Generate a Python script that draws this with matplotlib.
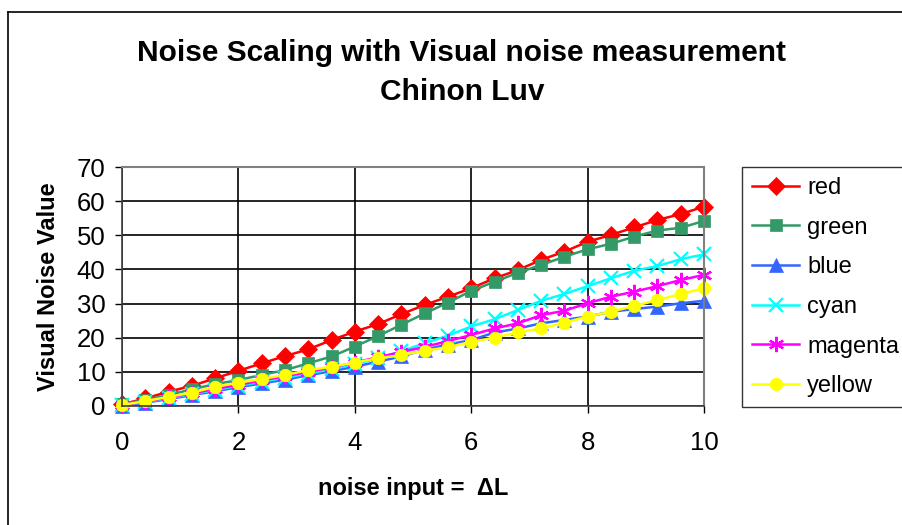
import matplotlib
matplotlib.use("Agg")
import matplotlib.pyplot as plt
from matplotlib.lines import Line2D

plt.rcParams['font.family'] = ['Liberation Sans', 'DejaVu Sans']

x = [0, 0.4, 0.8, 1.2, 1.6, 2.0, 2.4, 2.8, 3.2, 3.6, 4.0, 4.4, 4.8,
     5.2, 5.6, 6.0, 6.4, 6.8, 7.2, 7.6, 8.0, 8.4, 8.8, 9.2, 9.6, 10.0]

red = [0.5, 2.2, 4.2, 5.9, 8.1, 10.3, 12.5, 14.6, 16.6, 19.3, 21.8, 24.0, 26.9,
       29.6, 32.0, 34.5, 37.4, 39.8, 42.8, 45.2, 48.1, 50.1, 52.3, 54.5, 56.2, 58.4]
green = [0.5, 1.8, 3.2, 4.9, 6.4, 7.6, 9.1, 10.5, 12.5, 14.5, 17.4, 20.5, 23.8,
         27.1, 30.3, 33.7, 36.4, 39.0, 41.3, 43.7, 45.9, 47.5, 49.6, 51.4, 52.2, 54.2]
blue = [0.0, 1.0, 2.0, 3.2, 4.3, 5.5, 6.6, 7.7, 9.0, 10.2, 11.5, 13.0, 14.5,
        16.5, 18.0, 19.3, 21.5, 22.7, 24.2, 25.2, 26.2, 27.6, 28.4, 29.1, 30.1, 30.8]
cyan = [0.2, 1.2, 2.3, 3.5, 4.7, 5.9, 7.1, 8.3, 9.5, 10.8, 12.2, 14.0, 16.0,
        18.4, 20.6, 23.3, 25.4, 28.1, 30.8, 32.8, 35.1, 37.4, 39.6, 41.0, 43.0, 44.4]
magenta = [0.2, 1.3, 2.5, 3.7, 5.0, 6.2, 7.5, 8.7, 10.0, 11.3, 12.7, 14.3, 15.8,
           17.3, 19.0, 20.8, 22.7, 24.2, 26.6, 27.9, 30.1, 32.0, 33.5, 35.1, 36.9, 38.4]
yellow = [0.3, 1.4, 2.7, 3.9, 5.6, 6.8, 7.9, 9.1, 10.5, 11.5, 12.7, 14.0, 14.9,
          16.2, 17.2, 18.8, 20.0, 21.6, 22.7, 24.4, 26.2, 27.6, 29.3, 31.0, 32.8, 34.5]

series = [
    ("red", red, "#ff0000", "D", 9),
    ("green", green, "#339966", "s", 9),
    ("blue", blue, "#3366ff", "^", 10),
    ("cyan", cyan, "#00ffff", "x", 10),
    ("magenta", magenta, "#ff00ff", (6, 2, 0), 11),
    ("yellow", yellow, "#ffff00", "o", 9),
]

fig = plt.figure(figsize=(9.02, 5.25), dpi=100)
ax = fig.add_axes([0.1353, 0.2267, 0.6452, 0.4552])

for name, vals, col, mk, ms in series:
    ax.plot(x, vals, color=col, marker=mk, markersize=ms, linewidth=1.8,
            markeredgewidth=1.6 if mk in ("x", (6, 2, 0)) else 0.5,
            markeredgecolor=col, label=name, clip_on=False)

ax.set_xlim(0, 10)
ax.set_ylim(0, 70)
ax.set_xticks([0, 2, 4, 6, 8, 10])
ax.set_yticks(range(0, 71, 10))
ax.grid(True, color="black", linewidth=1.2)
ax.set_axisbelow(True)
ax.tick_params(labelsize=18.5, length=5, width=1, direction="out", pad=7)
ax.tick_params(axis="x", pad=13)

for side in ("top", "right"):
    ax.spines[side].set_color("#808080")
    ax.spines[side].set_linewidth(1.5)
for side in ("left", "bottom"):
    ax.spines[side].set_color("#404040")
    ax.spines[side].set_linewidth(1.2)

ax.set_xlabel("noise input =  ΔL", fontsize=17, fontweight="bold", labelpad=16)
ax.set_ylabel("Visual Noise Value", fontsize=17, fontweight="bold", labelpad=12)

fig.text(0.512, 0.862, "Noise Scaling with Visual noise measurement\nChinon Luv",
         ha="center", va="center", fontsize=21.5, fontweight="bold", linespacing=1.5)

leg = ax.legend(loc="upper left", bbox_to_anchor=(742 / 902, 1 - 167 / 525),
                bbox_transform=fig.transFigure, fontsize=17, frameon=True,
                fancybox=False, edgecolor="black", borderpad=0.42,
                labelspacing=0.75, handlelength=2.0, handletextpad=0.35,
                borderaxespad=0)
leg.get_frame().set_linewidth(1.0)

# outer chart frame
fig.add_artist(Line2D([8 / 902, 8 / 902], [0, 1 - 12 / 525], color="black", linewidth=1.2))
fig.add_artist(Line2D([8 / 902, 1], [1 - 12 / 525, 1 - 12 / 525], color="black", linewidth=1.2))

fig.savefig("out.png", dpi=100)
